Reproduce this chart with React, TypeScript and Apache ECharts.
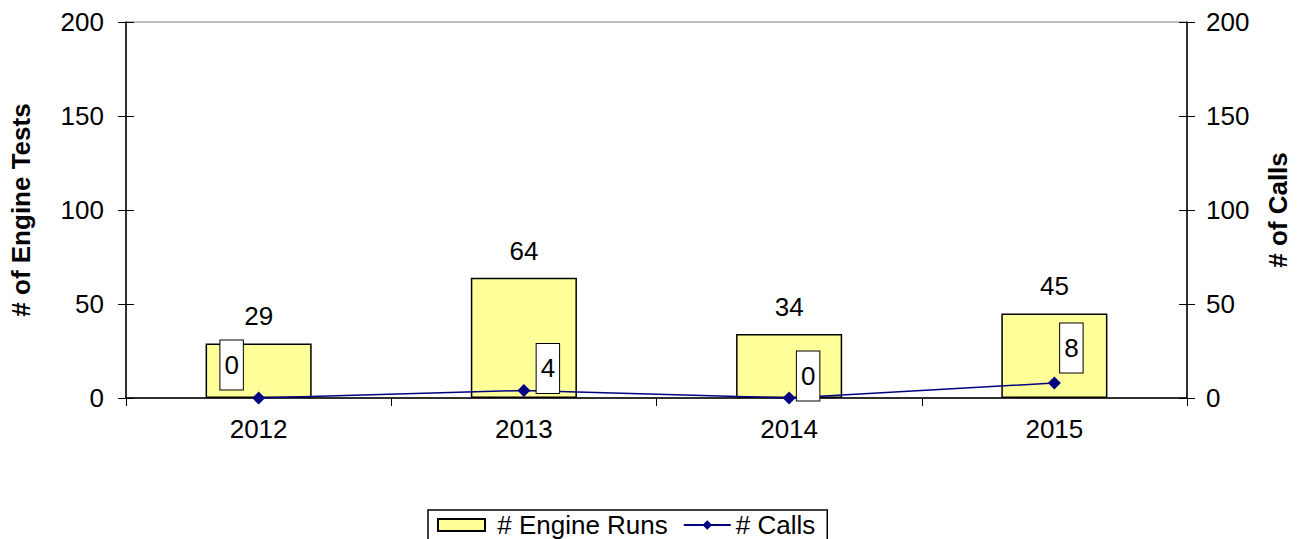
import React, { useEffect, useRef } from "react";
import * as echarts from "echarts";

const years = ["2012", "2013", "2014", "2015"];
const engineRuns = [29, 64, 34, 45];
const calls = [0, 4, 0, 8];
const callLabelOffsets: [number, number][] = [[-27, -33], [24, -22], [19, -22], [17, -35]];

const FONT = "'Liberation Sans', Arial, sans-serif";
const FS = 26;

export default function App() {
  const ref = useRef<HTMLDivElement>(null);
  useEffect(() => {
    if (!ref.current) return;
    const chart = echarts.init(ref.current, undefined, { renderer: "svg" });
    const axisBase = {
      type: "value" as const,
      min: 0,
      max: 200,
      interval: 50,
      splitLine: { show: false },
      axisLine: { show: true, lineStyle: { color: "#000", width: 1.5 } },
      axisTick: { show: true, length: 8, lineStyle: { color: "#000", width: 1 } },
    };
    const innerTicks = {
      type: "value" as const,
      min: 0,
      max: 200,
      interval: 50,
      splitLine: { show: false },
      axisLine: { show: false },
      axisTick: { show: true, inside: true, length: 8, lineStyle: { color: "#000", width: 1 } },
      axisLabel: { show: false },
    };
    chart.setOption({
      animation: false,
      backgroundColor: "#fff",
      grid: {
        left: 126,
        right: 115,
        top: 22,
        bottom: 141,
        show: true,
        borderColor: "#808080",
        borderWidth: 1,
      },
      xAxis: {
        type: "category",
        data: years,
        axisLine: { lineStyle: { color: "#000", width: 1.5 } },
        axisTick: { show: true, length: 8, lineStyle: { color: "#000" } },
        axisLabel: { color: "#000", fontSize: FS, fontFamily: FONT, margin: 18 },
      },
      yAxis: [
        {
          ...axisBase,
          position: "left",
          axisLabel: { color: "#000", fontSize: FS, fontFamily: FONT, margin: 22 },
          name: "# of Engine Tests",
          nameLocation: "middle",
          nameRotate: 90,
          nameGap: 92,
          nameTextStyle: { color: "#000", fontSize: FS, fontWeight: "bold", fontFamily: FONT },
        },
        {
          ...axisBase,
          position: "right",
          axisLabel: { color: "#000", fontSize: FS, fontFamily: FONT, margin: 19 },
          name: "# of Calls",
          nameLocation: "middle",
          nameRotate: 90,
          nameGap: 78,
          nameTextStyle: { color: "#000", fontSize: FS, fontWeight: "bold", fontFamily: FONT },
        },
        { ...innerTicks, position: "left" },
        { ...innerTicks, position: "right" },
      ],
      legend: {
        left: 428,
        top: 510,
        padding: [2, 12, 6, 9],
        borderColor: "#000",
        borderWidth: 1.5,
        itemGap: 15,
        itemWidth: 47,
        itemHeight: 12,
        textStyle: { color: "#000", fontSize: FS, fontFamily: FONT },
        formatter: (name: string) => (name === "# Engine Runs" ? " " + name : name),
        data: [
          { name: "# Engine Runs", icon: "rect" },
          { name: "# Calls" },
        ],
      },
      series: [
        {
          name: "# Engine Runs",
          type: "bar",
          data: engineRuns,
          barWidth: "40%",
          yAxisIndex: 0,
          itemStyle: { color: "#FFFF99", borderColor: "#000", borderWidth: 1.5 },
          label: {
            show: true,
            position: "top",
            distance: 14,
            color: "#000",
            fontSize: FS,
            fontFamily: FONT,
          },
        },
        {
          name: "# Calls",
          type: "line",
          data: calls.map((v, i) => ({
            value: v,
            label: { offset: callLabelOffsets[i] },
          })),
          yAxisIndex: 1,
          symbol: "diamond",
          symbolSize: 13,
          lineStyle: { color: "#000080", width: 1.5 },
          itemStyle: { color: "#000080" },
          label: {
            show: true,
            position: "inside",
            color: "#000",
            fontSize: FS,
            fontFamily: FONT,
            backgroundColor: "#fff",
            borderColor: "#000",
            borderWidth: 1,
            padding: [12, 4, 11, 4],
          },
        },
      ],
    });
    return () => chart.dispose();
  }, []);
  return <div ref={ref} style={{ width: 1302, height: 539, position: "absolute", left: 0, top: 0 }} />;
}
